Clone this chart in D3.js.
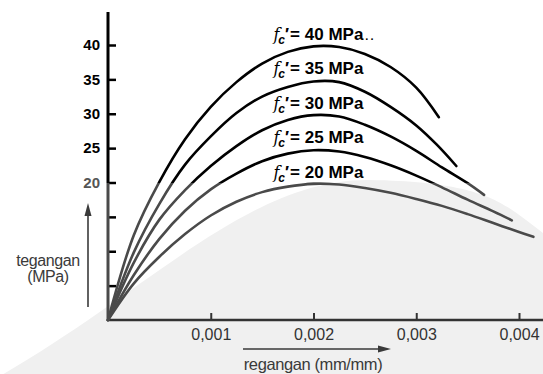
<!DOCTYPE html>
<html>
<head>
<meta charset="utf-8">
<script src="https://cdn.jsdelivr.net/npm/d3@7"></script>
<style>
  html, body { margin: 0; padding: 0; background: #fff; }
  svg { display: block; font-family: "Liberation Sans", Arial, sans-serif; }
  .ytick text { font-size: 15px; font-weight: bold; }
  .xtick text { font-size: 16px; }
  .grade { font-size: 17px; font-weight: bold; }
</style>
</head>
<body>
<svg id="chart" width="543" height="374"></svg>
<script>
// strain (mm/mm) vs stress (MPa)
var grades = [40, 35, 30, 25, 20];
var curve40 = [[0,0],[0.00025,12.3],[0.0005,20.1],[0.00075,26.3],[0.001,31.0],[0.00125,34.6],[0.0015,37.3],[0.00175,39.0],[0.002,39.8],[0.00225,39.7],[0.0025,38.7],[0.00275,36.8],[0.003,33.8],[0.00322,29.5]];
var curve35 = [[0,0],[0.00025,9.8],[0.0005,16.9],[0.00075,22.6],[0.001,26.7],[0.00125,30.1],[0.0015,32.5],[0.00175,33.9],[0.002,34.7],[0.00225,34.6],[0.0025,33.2],[0.00275,31.0],[0.003,28.3],[0.0032,25.5],[0.00339,22.4]];
var curve30 = [[0,0],[0.00025,8.3],[0.0005,14.6],[0.00075,18.9],[0.001,22.4],[0.00125,25.3],[0.0015,27.6],[0.00175,29.1],[0.002,29.8],[0.00225,29.6],[0.0025,28.4],[0.00275,26.7],[0.003,24.6],[0.00325,22.2],[0.0035,19.9],[0.00366,18.2]];
var curve25 = [[0,0],[0.00025,6.5],[0.0005,11.8],[0.00075,15.9],[0.001,19.0],[0.00125,21.3],[0.0015,23.1],[0.00175,24.2],[0.002,24.7],[0.00225,24.5],[0.0025,23.7],[0.00275,22.5],[0.003,21.0],[0.00325,19.3],[0.0035,17.5],[0.00375,15.8],[0.00393,14.5]];
var curve20 = [[0,0],[0.00025,5.3],[0.0005,9.2],[0.00075,12.5],[0.001,15.2],[0.00125,17.2],[0.0015,18.6],[0.00175,19.4],[0.002,19.8],[0.00225,19.7],[0.0025,19.2],[0.00275,18.5],[0.003,17.6],[0.00325,16.6],[0.0035,15.4],[0.00375,14.1],[0.004,12.8],[0.00414,12.1]];
var curves = [curve40, curve35, curve30, curve25, curve20];
var strainTicks = [0.001, 0.002, 0.003, 0.004];
var stressTicks = [5, 10, 15, 20, 25, 30, 35, 40];
var stressLabels = [20, 25, 30, 35, 40];

var svg = d3.select('#chart');
var x = d3.scaleLinear().domain([0, 0.004]).range([108, 519]);
var y = d3.scaleLinear().domain([0, 40]).range([320, 45]);
var comma = d3.formatLocale({decimal: ',', thousands: '.', grouping: [3], currency: ['', '']}).format('.3f');

// scanned page: darker ink on top part, greyer lower down
var defs = svg.append('defs');
var g$ = defs.append('linearGradient').attr('id', 'ink')
  .attr('gradientUnits', 'userSpaceOnUse')
  .attr('x1', 0).attr('y1', 0).attr('x2', 0).attr('y2', 374);
g$.append('stop').attr('offset', 183 / 374).attr('stop-color', '#000');
g$.append('stop').attr('offset', 183 / 374).attr('stop-color', '#4a4a4a');

// faint watermark behind the chart
svg.append('path')
  .attr('d', 'M0,376 C150,290 250,178 370,180 S505,205 543,233 L543,374 L0,374 Z')
  .attr('fill', '#f0f0f0');

// y axis
var yAxis = d3.axisLeft(y).tickValues(stressTicks).tickSizeInner(-8).tickSizeOuter(0).tickPadding(8)
  .tickFormat(function(d){ return stressLabels.indexOf(d) >= 0 ? d : ''; });
var ya = svg.append('g').attr('class', 'ytick').attr('transform', 'translate(' + x(0) + ',0)').call(yAxis);
ya.select('.domain').remove();
ya.selectAll('line').attr('stroke', 'url(#ink)').attr('stroke-width', 2.5);
ya.selectAll('text').attr('fill', function(d){ return d > 20 ? '#000' : '#555'; });
svg.append('line')
  .attr('x1', x(0)).attr('x2', x(0) + 0.01)
  .attr('y1', y(44.8)).attr('y2', y(0) + 1)
  .attr('stroke', 'url(#ink)').attr('stroke-width', 3);

// x axis
var xAxis = d3.axisBottom(x).tickValues(strainTicks).tickSizeInner(-7).tickSizeOuter(0).tickPadding(9).tickFormat(comma);
var xa = svg.append('g').attr('class', 'xtick').attr('transform', 'translate(0,' + y(0) + ')').call(xAxis);
xa.select('.domain').remove();
xa.selectAll('line').attr('stroke', '#333').attr('stroke-width', 2);
xa.selectAll('text').attr('fill', '#333');
svg.append('line')
  .attr('x1', x(0) - 1).attr('x2', 543)
  .attr('y1', y(0)).attr('y2', y(0))
  .attr('stroke', '#333').attr('stroke-width', 2.5);

// curves
var line = d3.line()
  .x(function(d){ return x(d[0]); })
  .y(function(d){ return y(d[1]); })
  .curve(d3.curveCatmullRom.alpha(0.5));
svg.append('g').selectAll('path').data(curves).enter().append('path')
  .attr('d', line)
  .attr('fill', 'none')
  .attr('stroke', 'url(#ink)')
  .attr('stroke-width', 2.6)
  .attr('stroke-linecap', 'round');

// curve labels, just above each peak
var lab = svg.append('g').selectAll('text').data(grades).enter().append('text')
  .attr('class', 'grade')
  .attr('x', x(0.00161))
  .attr('y', function(d){ return y(d) - 5; });
lab.append('tspan').attr('font-style', 'italic').attr('font-weight', 'normal').attr('font-family', '"DejaVu Serif", serif').attr('font-size', 16).text('f');
lab.append('tspan').attr('font-style', 'italic').attr('font-size', 12).attr('dx', -1).attr('dy', 4).text('c');
lab.append('tspan').attr('dy', -4).text('\u2032');
lab.append('tspan').attr('dx', 1).text(function(d){ return '= ' + d + ' MPa'; });
lab.filter(function(d){ return d === 40; }).append('tspan')
  .attr('font-size', 11).attr('dx', 2).attr('letter-spacing', 2).text('..');

// axis titles with arrows
var ink = '#3a3a3a';
svg.append('text').attr('x', 48).attr('y', 266).attr('text-anchor', 'middle')
  .attr('font-size', 16).attr('letter-spacing', -0.4).attr('fill', ink).text('tegangan');
svg.append('text').attr('x', 48).attr('y', 282).attr('text-anchor', 'middle')
  .attr('font-size', 16).attr('letter-spacing', -0.4).attr('fill', ink).text('(MPa)');
svg.append('line').attr('x1', 88).attr('x2', 88).attr('y1', 307).attr('y2', 214)
  .attr('stroke', ink).attr('stroke-width', 1.6);
svg.append('path').attr('d', 'M88,203 L84.5,216 L91.5,216 Z').attr('fill', ink);

svg.append('line').attr('x1', 243).attr('x2', 380).attr('y1', 349).attr('y2', 349)
  .attr('stroke', ink).attr('stroke-width', 1.6);
svg.append('path').attr('d', 'M391,349 L378,345.5 L378,352.5 Z').attr('fill', ink);
svg.append('text').attr('x', 313).attr('y', 370).attr('text-anchor', 'middle')
  .attr('font-size', 16.5).attr('letter-spacing', -0.4).attr('fill', ink).text('regangan (mm/mm)');
</script>
</body>
</html>
